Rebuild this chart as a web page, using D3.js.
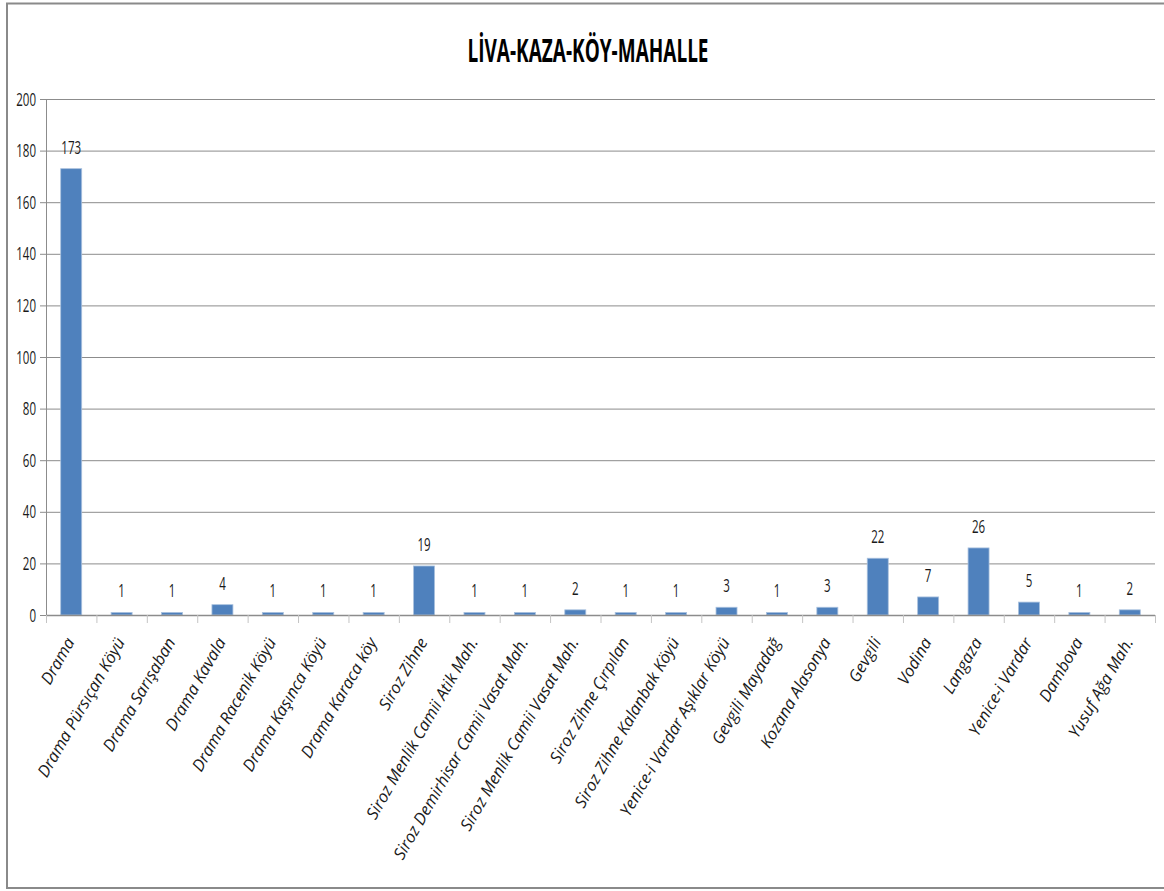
<!DOCTYPE html>
<html>
<head>
<meta charset="utf-8">
<script src="https://cdn.jsdelivr.net/npm/d3@7/dist/d3.min.js"></script>
<style>
  html, body { margin: 0; padding: 0; background: #fff; }
  svg { display: block; }
</style>
</head>
<body>
<svg id="chart" width="1164" height="891"></svg>
<script>
// Settlements (liva, kaza, köy, mahalle) and their counts
const categories = [
  "Drama", "Drama Pürsıçan Köyü", "Drama Sarışaban", "Drama Kavala",
  "Drama Racenik Köyü", "Drama Kaşınca Köyü", "Drama Karaca köy", "Siroz Zihne",
  "Siroz Menlik Camii Atik Mah.", "Siroz Demirhisar Camii Vasat Mah.",
  "Siroz Menlik Camii Vasat Mah.", "Siroz Zihne Çırpılan", "Siroz Zihne Kalanbak Köyü",
  "Yenice-i Vardar Aşıklar Köyü", "Gevgili Mayadağ", "Kozana Alasonya",
  "Gevgili", "Vodina", "Langaza", "Yenice-i Vardar", "Dambova", "Yusuf Ağa Mah."
];
const values = [173, 1, 1, 4, 1, 1, 1, 19, 1, 1, 2, 1, 1, 3, 1, 3, 22, 7, 26, 5, 1, 2];
const yTicks = [0, 20, 40, 60, 80, 100, 120, 140, 160, 180, 200];
const title = "LİVA-KAZA-KÖY-MAHALLE";

const svg = d3.select("#chart");
const plot = { left: 46, right: 1155, top: 99, bottom: 615 };

const x = d3.scaleBand()
  .domain(categories)
  .range([plot.left, plot.right])
  .paddingInner(0)
  .paddingOuter(0);

const y = d3.scaleLinear()
  .domain([0, 200])
  .range([plot.bottom, plot.top]);

const GRID = "#8c8c8c";
const BAR = "#4f81bd";
const FONT = "'Open Sans', 'Noto Sans', sans-serif";
const SQUEEZE = 0.64;

// Chart frame
svg.append("rect")
  .attr("x", 7).attr("y", 3.5)
  .attr("width", 1170).attr("height", 884.5)
  .attr("fill", "#fff")
  .attr("stroke", "#8a8a8a").attr("stroke-width", 2);

// Title
svg.append("text")
  .attr("x", 588).attr("y", 62)
  .attr("text-anchor", "middle")
  .attr("font-family", FONT)
  .attr("font-weight", "bold")
  .attr("font-size", 33)
  .attr("textLength", 241)
  .attr("lengthAdjust", "spacingAndGlyphs")
  .attr("fill", "#000")
  .text(title);

// Horizontal gridlines and y ticks
const yAxis = d3.axisLeft(y)
  .tickValues(yTicks)
  .tickSize(-(plot.right - plot.left))
  .tickFormat("");
const gy = svg.append("g")
  .attr("transform", `translate(${plot.left},0)`)
  .call(yAxis);
gy.select(".domain").remove();
gy.selectAll(".tick line").attr("stroke", GRID).attr("stroke-width", 1);
// small outer tick marks
gy.selectAll(".tick").append("line")
  .attr("x1", -6).attr("x2", 0)
  .attr("stroke", GRID).attr("stroke-width", 1);

// y tick labels (condensed)
svg.append("g").selectAll("text")
  .data(yTicks)
  .join("text")
  .attr("transform", d => `translate(36,${y(d) + 6.5}) scale(${SQUEEZE},1)`)
  .attr("text-anchor", "end")
  .attr("font-family", FONT)
  .attr("font-size", 18)
  .attr("fill", "#1a1a1a")
  .text(d => d);

// Vertical axis line
svg.append("line")
  .attr("x1", plot.left + 0.5).attr("x2", plot.left + 0.5)
  .attr("y1", plot.top).attr("y2", plot.bottom)
  .attr("stroke", GRID).attr("stroke-width", 1);

// Bars
svg.append("g").selectAll("rect")
  .data(values)
  .join("rect")
  .attr("x", (d, i) => x(categories[i]) + x.bandwidth() / 2 - 10.5)
  .attr("width", 21)
  .attr("y", d => y(d))
  .attr("height", d => y(0) - y(d))
  .attr("fill", BAR)
  .attr("stroke", "#a9c1de")
  .attr("stroke-width", 0.8);

// Category axis with tick marks between bands
const xAxisLine = svg.append("g");
xAxisLine.append("line")
  .attr("x1", plot.left).attr("x2", plot.right)
  .attr("y1", plot.bottom + 0.5).attr("y2", plot.bottom + 0.5)
  .attr("stroke", GRID).attr("stroke-width", 1.5);
const boundaries = categories.map(c => x(c)).concat([x.range()[1]]);
xAxisLine.selectAll("line.tk")
  .data(boundaries)
  .join("line")
  .attr("class", "tk")
  .attr("x1", d => d + 0.5).attr("x2", d => d + 0.5)
  .attr("y1", plot.bottom).attr("y2", plot.bottom + 8)
  .attr("stroke", "#c4c4c4").attr("stroke-width", 1);

// Data labels
svg.append("g").selectAll("text")
  .data(values)
  .join("text")
  .attr("transform", (d, i) =>
    `translate(${x(categories[i]) + x.bandwidth() / 2},${y(d) - 15}) scale(${SQUEEZE},1)`)
  .attr("text-anchor", "middle")
  .attr("font-family", FONT)
  .attr("font-size", 18)
  .attr("fill", "#1a1a1a")
  .text(d => d);

// Rotated category labels
svg.append("g").selectAll("text")
  .data(categories)
  .join("text")
  .attr("transform", c =>
    `translate(${x(c) + x.bandwidth() / 2 + 4},${plot.bottom + 27}) rotate(-60)`)
  .attr("text-anchor", "end")
  .attr("font-family", FONT)
  .attr("font-style", "italic")
  .attr("font-size", 16.5)
  .attr("fill", "#1a1a1a")
  .text(c => c);
</script>
</body>
</html>
